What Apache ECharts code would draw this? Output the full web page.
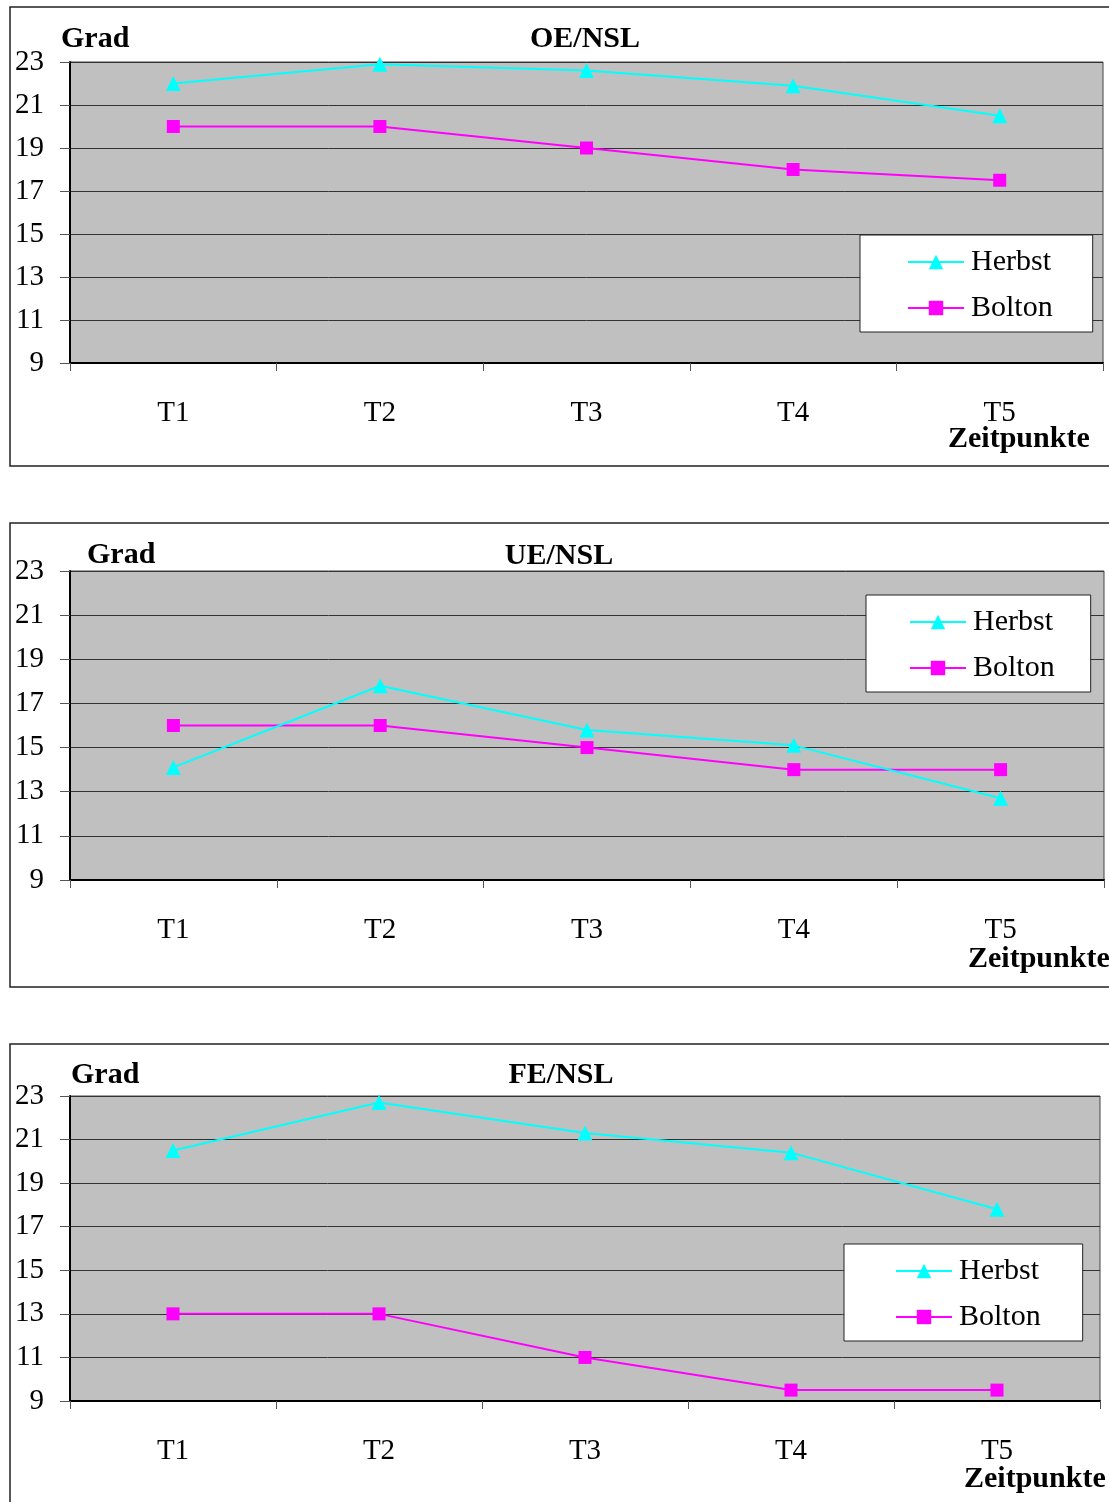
<!DOCTYPE html>
<html>
<head>
<meta charset="utf-8">
<script src="https://cdn.jsdelivr.net/npm/echarts@6/dist/echarts.min.js"></script>
<style>
html,body{margin:0;padding:0;background:#fff;overflow:hidden;}
#c{width:1109px;height:1502px;}
</style>
</head>
<body>
<div id="c"></div>
<script>
var categories = ['T1', 'T2', 'T3', 'T4', 'T5'];
var yTicks = [9, 11, 13, 15, 17, 19, 21, 23];
var chartTitles = ['OE/NSL', 'UE/NSL', 'FE/NSL'];
var seriesNames = ['Herbst', 'Bolton'];
var oeHerbst = [22.0, 22.9, 22.6, 21.9, 20.5];
var oeBolton = [20, 20, 19, 18, 17.5];
var ueHerbst = [14.1, 17.8, 15.8, 15.1, 12.7];
var ueBolton = [16, 16, 15, 14, 14];
var feHerbst = [20.5, 22.7, 21.3, 20.4, 17.8];
var feBolton = [13, 13, 11, 9.5, 9.5];

var FONT = "'Liberation Serif', 'Times New Roman', serif";
var panels = [
  {grid:{left:70, top:62, width:1033, height:301}, legend:{left:860, top:235, pad:[12, 40, 9, 47]},
   box:{x:10, y:7, h:459}, grad:{x:61, y:39}, title:{x:585, y:39}, zeit:{x:948, y:439},
   h: oeHerbst, b: oeBolton},
  {grid:{left:70, top:571, width:1034, height:309}, legend:{left:866, top:595, pad:[12, 36, 9, 43]},
   box:{x:10, y:523, h:464}, grad:{x:87, y:555}, title:{x:559, y:556}, zeit:{x:968, y:959},
   h: ueHerbst, b: ueBolton},
  {grid:{left:70, top:1096, width:1030, height:305}, legend:{left:844, top:1244, pad:[12, 42, 9, 51]},
   box:{x:10, y:1044, h:520}, grad:{x:71, y:1075}, title:{x:561, y:1075}, zeit:{x:964, y:1479},
   h: feHerbst, b: feBolton}
];

var grids = [], xAxes = [], yAxes = [], legends = [], series = [], graphics = [];
panels.forEach(function (p, i) {
  grids.push({
    left: p.grid.left, top: p.grid.top, width: p.grid.width, height: p.grid.height,
    show: true, backgroundColor: '#c0c0c0', borderColor: '#444', borderWidth: 1
  });
  xAxes.push({
    type: 'category', gridIndex: i, data: categories, boundaryGap: true,
    axisLine: {show: true, lineStyle: {color: '#000', width: 2}},
    axisTick: {show: true, length: 8, lineStyle: {color: '#555'}},
    axisLabel: {fontFamily: FONT, fontSize: 29, color: '#000', margin: 36},
    splitLine: {show: false}
  });
  yAxes.push({
    type: 'value', gridIndex: i, min: yTicks[0], max: yTicks[yTicks.length - 1], interval: 2,
    axisLine: {show: true, lineStyle: {color: '#000', width: 2}},
    axisTick: {show: true, length: 10, lineStyle: {color: '#555'}},
    axisLabel: {fontFamily: FONT, fontSize: 29, color: '#000', margin: 26, padding: [3, 0, 0, 0]},
    splitLine: {show: true, lineStyle: {color: '#333', width: 1}}
  });
  legends.push({
    data: seriesNames, orient: 'vertical', left: p.legend.left, top: p.legend.top,
    backgroundColor: '#fff', borderColor: '#222', borderWidth: 1,
    padding: p.legend.pad, itemGap: 16, itemWidth: 56, itemHeight: 18,
    textStyle: {fontFamily: FONT, fontSize: 30, color: '#000', padding: [0, 0, 0, 2]},
    selectedMode: false
  });
  series.push({
    name: seriesNames[0], type: 'line', xAxisIndex: i, yAxisIndex: i, data: p.h,
    symbol: 'triangle', symbolSize: 15, color: '#00ffff',
    lineStyle: {color: '#00ffff', width: 2}, itemStyle: {color: '#00ffff'}, z: 3
  });
  series.push({
    name: seriesNames[1], type: 'line', xAxisIndex: i, yAxisIndex: i, data: p.b,
    symbol: 'rect', symbolSize: 13, color: '#ff00ff',
    lineStyle: {color: '#ff00ff', width: 2}, itemStyle: {color: '#ff00ff'}, z: 2
  });
  graphics.push({
    type: 'rect', shape: {x: p.box.x, y: p.box.y, width: 1200, height: p.box.h},
    style: {fill: 'none', stroke: '#222', lineWidth: 1.5}, silent: true
  });
  graphics.push({
    type: 'text', x: p.grad.x, y: p.grad.y,
    style: {text: 'Grad', font: 'bold 30px ' + FONT, fill: '#000', textAlign: 'left', textVerticalAlign: 'middle'}
  });
  graphics.push({
    type: 'text', x: p.title.x, y: p.title.y,
    style: {text: chartTitles[i], font: 'bold 30px ' + FONT, fill: '#000', textAlign: 'center', textVerticalAlign: 'middle'}
  });
  graphics.push({
    type: 'text', x: p.zeit.x, y: p.zeit.y,
    style: {text: 'Zeitpunkte', font: 'bold 30px ' + FONT, fill: '#000', textAlign: 'left', textVerticalAlign: 'middle'}
  });
});

var chart = echarts.init(document.getElementById('c'), null, {renderer: 'canvas'});
chart.setOption({
  animation: false,
  backgroundColor: '#fff',
  grid: grids, xAxis: xAxes, yAxis: yAxes, legend: legends, series: series,
  graphic: graphics
});
</script>
</body>
</html>
